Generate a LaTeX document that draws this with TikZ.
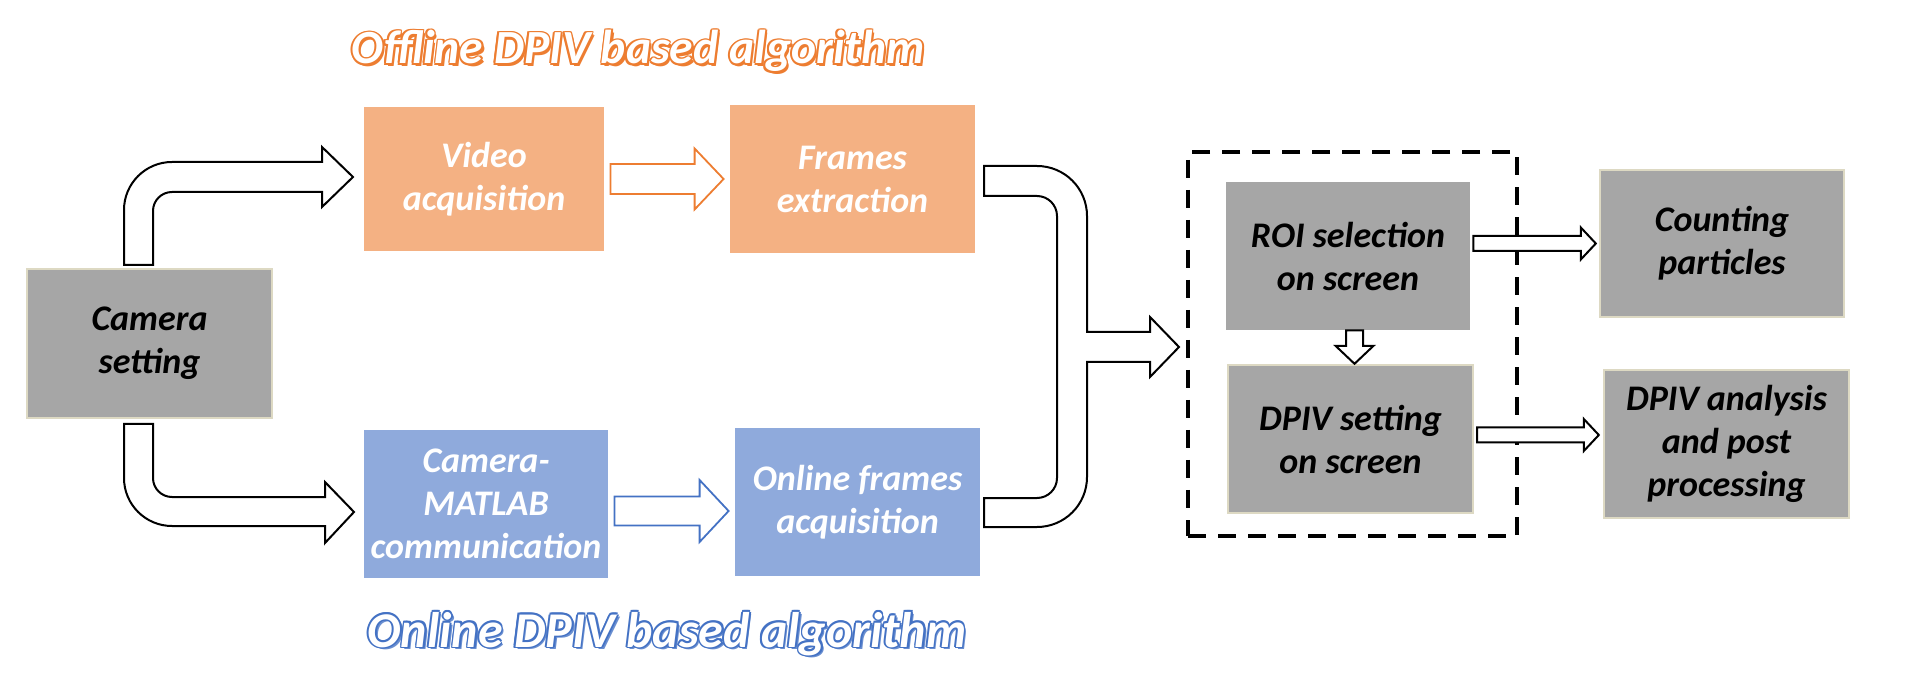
\documentclass[tikz,border=0pt]{standalone}
\usepackage{fontspec}
\newfontfamily\carl{Carlito}
\usetikzlibrary{calc}
\definecolor{gbox}{HTML}{A6A6A6}
\definecolor{gedge}{HTML}{DDD9C3}
\definecolor{obox}{HTML}{F4B183}
\definecolor{bbox}{HTML}{8FAADC}
\definecolor{oline}{HTML}{ED7D31}
\definecolor{bline}{HTML}{4472C4}
\newcommand{\harrow}[6]{\draw[#1] let \p1=#2, \p2=#3 in (\x1,\y2+#4) -- (\x2-#6,\y2+#4) -- (\x2-#6,\y2+#5) -- (\x2,\y2) -- (\x2-#6,\y2-#5) -- (\x2-#6,\y2-#4) -- (\x1,\y2-#4) -- cycle;}
\begin{document}
\begin{tikzpicture}[x=0.5pt,y=-0.5pt,
  box/.style={inner sep=0pt, align=center, font=\carl\bfseries\itshape\fontsize{18}{21.5}\selectfont},
  graybox/.style={box, fill=gbox, draw=gedge, line width=1.2pt, text=black},
  plaingray/.style={box, fill=gbox, text=black},
  orbox/.style={box, fill=obox, text=white},
  blbox/.style={box, fill=bbox, text=white},
  blockarrow/.style={draw=black, fill=white, line width=1pt, line join=miter},
  orarrow/.style={draw=oline, fill=white, line width=0.9pt},
  blarrow/.style={draw=bline, fill=white, line width=0.9pt},
  groupbox/.style={draw=black, line width=2pt, dash pattern=on 9pt off 6pt},
  ttl/.style={inner sep=0pt, anchor=base, font=\carl\bfseries\itshape\fontsize{25}{30}\selectfont},
  ttlo/.style={inner sep=0pt, anchor=base, font=\carl\bfseries\itshape\fontsize{23.8}{28}\selectfont}
]
\useasboundingbox (0,0) rectangle (1920,683);

% boxes
\node[graybox, minimum width=122.5pt, minimum height=74.5pt] (cam) at (149.5,343.5) {Camera\\setting};
\node[orbox, minimum width=120pt, minimum height=72pt] (vid) at (484,179) {Video\\acquisition};
\node[orbox, minimum width=122.5pt, minimum height=74pt] (frm) at (852.5,179) {Frames\\extraction};
\node[blbox, minimum width=122pt, minimum height=74pt] (cmc) at (486,504) {Camera-\\MATLAB\\communication};
\node[blbox, minimum width=122.5pt, minimum height=74pt] (onl) at (857.5,502) {Online frames\\acquisition};
\node[plaingray, minimum width=122pt, minimum height=74pt] (roi) at (1348,256) {ROI selection\\on screen};
\node[graybox, minimum width=122.5pt, minimum height=74pt] (dps) at (1350.5,439) {DPIV setting\\on screen};
\node[graybox, minimum width=122pt, minimum height=73.5pt] (cnt) at (1722,243.5) {Counting\\particles};
\node[graybox, minimum width=122.5pt, minimum height=74pt] (ana) at (1726.5,444) {DPIV analysis\\and post\\processing};
\node[groupbox, minimum width=164.5pt, minimum height=192pt] (grp) at (1352.5,344) {};

% straight block arrows
\harrow{orarrow}{($(vid.east)+(6,0)$)}{($(frm.west)+(-6,0)$)}{7.5pt}{15.25pt}{14.5pt}
\harrow{blarrow}{($(cmc.east)+(6,0)$)}{($(onl.west)+(-6,9)$)}{7.25pt}{15.5pt}{14.5pt}
\harrow{blockarrow}{($(roi.east)+(3,0)$)}{($(cnt.west)+(-3,0)$)}{3.75pt}{8pt}{7.5pt}
\harrow{blockarrow}{($(dps.east)+(3,0)$)}{($(ana.west)+(-4,-9)$)}{3.75pt}{8pt}{7.5pt}
\draw[blockarrow] let \p1=($(roi.south)+(6.5,0)$), \p2=($(dps.north)+(4,0)$) in
  (\x1-4.25pt,\y1) -- (\x1-4.25pt,\y2+9pt) -- (\x1-9.5pt,\y2+9pt) -- (\x1,\y2) -- (\x1+9.5pt,\y2+9pt) -- (\x1+4.25pt,\y2+9pt) -- (\x1+4.25pt,\y1) -- cycle;

% bent arrows from camera setting
\draw[blockarrow] (124,265) -- (124,210) .. controls (124,183.5) and (145.5,162) .. (172,162) -- (322,162) -- (322,147) -- (353,177) -- (322,207) -- (322,192) -- (172,192) .. controls (161.5,192) and (153,200.5) .. (153,211) -- (153,265) -- cycle;
\draw[blockarrow] (124,424) -- (124,478) .. controls (124,504.5) and (145.5,526) .. (172,526) -- (325,526) -- (325,543) -- (354,512) -- (325,482) -- (325,497) -- (172,497) .. controls (161.5,497) and (153,488.5) .. (153,478) -- (153,424) -- cycle;

% merging arrow
\draw[blockarrow] (984,166) -- (1037,166) .. controls (1064.6,166) and (1087,188.4) .. (1087,216) -- (1087,332) -- (1150,332) -- (1150,317) -- (1179,347) -- (1150,377) -- (1150,362) -- (1087,362) -- (1087,477) .. controls (1087,504.6) and (1064.6,527) .. (1037,527) -- (984,527) -- (984,498) -- (1037,498) .. controls (1048,498) and (1057,489) .. (1057,478) -- (1057,216) .. controls (1057,205) and (1048,196) .. (1037,196) -- (984,196) -- cycle;

% titles
\node[ttlo, text=oline] (tos) at (640.5,66.5) {Offline DPIV based algorithm};
\foreach \a in {0,45,...,315} \node[ttlo, text=oline] (too\a) at ($(638,64)+(\a:1.7)$) {Offline DPIV based algorithm};
\node[ttlo, text=white] (to) at (638,64) {Offline DPIV based algorithm};

\node[ttl, text=bline!80] (tbs) at (669.5,649.5) {Online DPIV based algorithm};
\foreach \a in {0,45,...,315} \node[ttl, text=bline] (tbo\a) at ($(667,647)+(\a:1.7)$) {Online DPIV based algorithm};
\node[ttl, text=white] (tb) at (667,647) {Online DPIV based algorithm};
\end{tikzpicture}
\end{document}
